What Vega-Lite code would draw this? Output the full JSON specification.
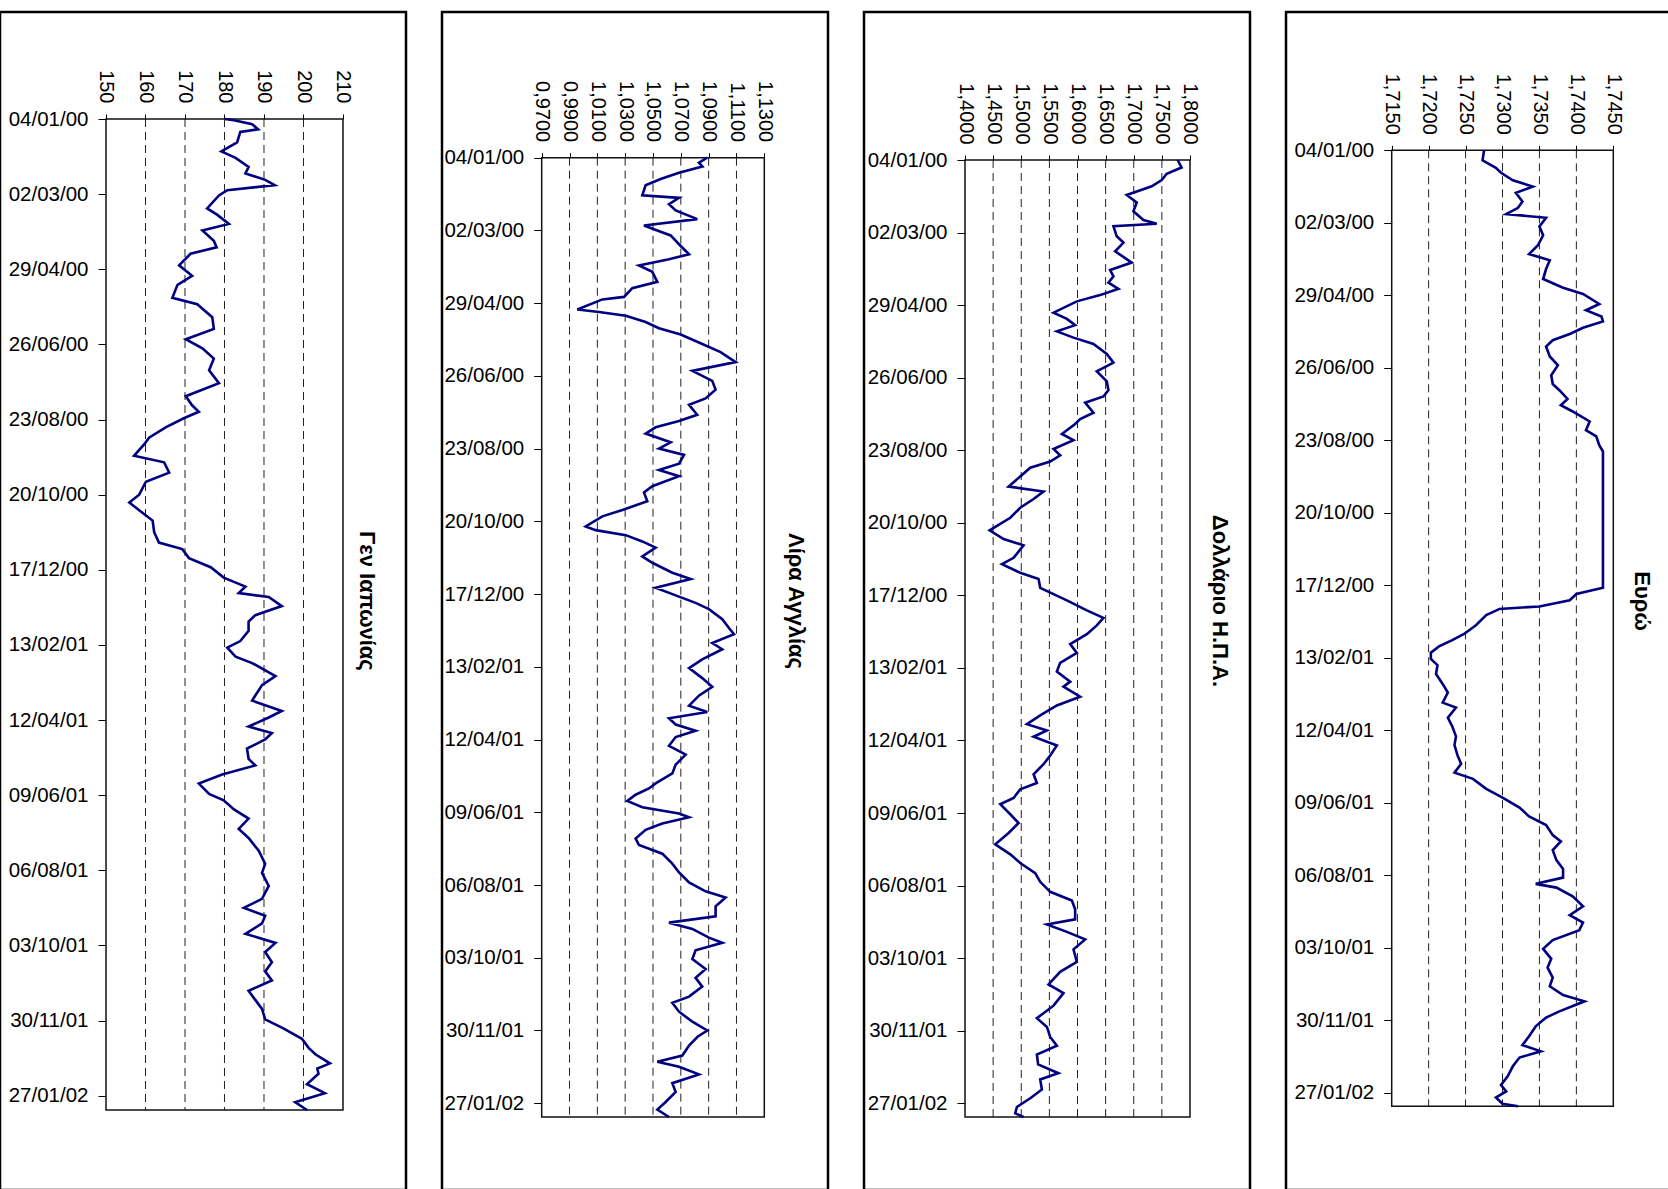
{
"$schema": "https://vega.github.io/schema/vega-lite/v6.json",
"background": "white",
"padding": {"left": -2, "top": 10, "right": 0, "bottom": 0},
"spacing": 32,
"config": {
  "view": {"stroke": "#000", "strokeWidth": 2.5},
  "locale": {"number": {"decimal": ",", "thousands": ".", "grouping": [3], "currency": ["", "€"]}},
  "axis": {"labelFont": "Liberation Sans", "labelFontSize": 20.5, "labelColor": "#000", "tickColor": "#000", "tickWidth": 1}
},
"datasets": {
"jpy": [
{"date":"2000-01-04","value":180.1},{"date":"2000-01-05","value":182.4},{"date":"2000-01-08","value":187.0},{"date":"2000-01-12","value":188.5},{"date":"2000-01-14","value":184.0},{"date":"2000-01-22","value":183.2},{"date":"2000-01-29","value":179.2},{"date":"2000-02-03","value":182.8},{"date":"2000-02-10","value":186.1},{"date":"2000-02-15","value":185.3},{"date":"2000-02-20","value":190.3},{"date":"2000-02-24","value":192.7},{"date":"2000-02-28","value":180.7},{"date":"2000-03-03","value":178.6},{"date":"2000-03-13","value":175.6},{"date":"2000-03-18","value":178.2},{"date":"2000-03-25","value":181.1},{"date":"2000-03-30","value":174.4},{"date":"2000-04-07","value":177.3},{"date":"2000-04-12","value":178.0},{"date":"2000-04-17","value":171.4},{"date":"2000-04-26","value":168.5},{"date":"2000-05-04","value":171.8},{"date":"2000-05-11","value":168.1},{"date":"2000-05-21","value":166.8},{"date":"2000-05-26","value":173.1},{"date":"2000-06-05","value":176.9},{"date":"2000-06-14","value":177.3},{"date":"2000-06-22","value":170.2},{"date":"2000-06-29","value":174.4},{"date":"2000-07-07","value":177.3},{"date":"2000-07-16","value":176.1},{"date":"2000-07-26","value":178.6},{"date":"2000-08-05","value":170.2},{"date":"2000-08-12","value":171.8},{"date":"2000-08-17","value":173.5},{"date":"2000-08-22","value":169.7},{"date":"2000-08-29","value":165.1},{"date":"2000-09-06","value":160.9},{"date":"2000-09-11","value":159.7},{"date":"2000-09-20","value":157.1},{"date":"2000-09-25","value":164.7},{"date":"2000-10-03","value":166.0},{"date":"2000-10-10","value":160.1},{"date":"2000-10-20","value":158.4},{"date":"2000-10-26","value":155.9},{"date":"2000-11-01","value":158.4},{"date":"2000-11-09","value":161.8},{"date":"2000-11-18","value":162.2},{"date":"2000-11-26","value":163.4},{"date":"2000-12-01","value":169.3},{"date":"2000-12-08","value":171.0},{"date":"2000-12-15","value":176.5},{"date":"2000-12-23","value":179.8},{"date":"2000-12-30","value":185.3},{"date":"2001-01-04","value":183.6},{"date":"2001-01-07","value":191.2},{"date":"2001-01-14","value":194.5},{"date":"2001-01-21","value":187.8},{"date":"2001-01-26","value":186.1},{"date":"2001-02-02","value":186.1},{"date":"2001-02-10","value":184.0},{"date":"2001-02-15","value":180.7},{"date":"2001-02-22","value":182.8},{"date":"2001-02-27","value":187.0},{"date":"2001-03-09","value":192.9},{"date":"2001-03-16","value":189.5},{"date":"2001-03-24","value":187.8},{"date":"2001-03-28","value":187.0},{"date":"2001-04-05","value":194.5},{"date":"2001-04-10","value":191.2},{"date":"2001-04-17","value":186.1},{"date":"2001-04-22","value":192.0},{"date":"2001-04-27","value":190.3},{"date":"2001-05-04","value":185.7},{"date":"2001-05-12","value":186.1},{"date":"2001-05-17","value":187.8},{"date":"2001-05-24","value":179.4},{"date":"2001-05-31","value":173.5},{"date":"2001-06-08","value":176.1},{"date":"2001-06-13","value":179.8},{"date":"2001-06-20","value":182.4},{"date":"2001-06-27","value":186.1},{"date":"2001-07-05","value":183.6},{"date":"2001-07-12","value":186.1},{"date":"2001-07-22","value":188.7},{"date":"2001-08-01","value":190.3},{"date":"2001-08-08","value":189.5},{"date":"2001-08-18","value":191.2},{"date":"2001-08-28","value":189.5},{"date":"2001-09-04","value":184.9},{"date":"2001-09-10","value":190.3},{"date":"2001-09-16","value":189.5},{"date":"2001-09-24","value":185.3},{"date":"2001-10-01","value":192.9},{"date":"2001-10-08","value":190.3},{"date":"2001-10-16","value":192.0},{"date":"2001-10-23","value":190.3},{"date":"2001-10-30","value":192.0},{"date":"2001-11-07","value":186.1},{"date":"2001-11-14","value":187.8},{"date":"2001-11-21","value":189.5},{"date":"2001-11-29","value":190.3},{"date":"2001-12-06","value":194.9},{"date":"2001-12-14","value":199.6},{"date":"2001-12-21","value":201.3},{"date":"2001-12-26","value":203.0},{"date":"2002-01-02","value":206.7},{"date":"2002-01-06","value":203.5},{"date":"2002-01-10","value":203.8},{"date":"2002-01-18","value":200.9},{"date":"2002-01-25","value":205.4},{"date":"2002-02-01","value":197.9},{"date":"2002-02-07","value":200.9}
],
"gbp": [
{"date":"2000-01-04","value":1.089},{"date":"2000-01-08","value":1.083},{"date":"2000-01-11","value":1.0855},{"date":"2000-01-16","value":1.0687},{"date":"2000-01-21","value":1.0555},{"date":"2000-01-26","value":1.0447},{"date":"2000-02-03","value":1.0423},{"date":"2000-02-05","value":1.0687},{"date":"2000-02-10","value":1.0615},{"date":"2000-02-15","value":1.0663},{"date":"2000-02-22","value":1.0818},{"date":"2000-02-27","value":1.0435},{"date":"2000-03-03","value":1.0555},{"date":"2000-03-06","value":1.0627},{"date":"2000-03-13","value":1.0687},{"date":"2000-03-21","value":1.0759},{"date":"2000-03-25","value":1.0615},{"date":"2000-03-30","value":1.0399},{"date":"2000-04-04","value":1.0495},{"date":"2000-04-12","value":1.0531},{"date":"2000-04-17","value":1.0351},{"date":"2000-04-24","value":1.0292},{"date":"2000-04-26","value":1.0136},{"date":"2000-05-04","value":0.9956},{"date":"2000-05-06","value":1.0112},{"date":"2000-05-09","value":1.0304},{"date":"2000-05-14","value":1.0447},{"date":"2000-05-19","value":1.0543},{"date":"2000-05-24","value":1.0699},{"date":"2000-05-31","value":1.0842},{"date":"2000-06-07","value":1.0986},{"date":"2000-06-15","value":1.1094},{"date":"2000-06-22","value":1.0783},{"date":"2000-06-30","value":1.0926},{"date":"2000-07-07","value":1.095},{"date":"2000-07-14","value":1.0878},{"date":"2000-07-19","value":1.0759},{"date":"2000-07-27","value":1.0818},{"date":"2000-08-01","value":1.0687},{"date":"2000-08-06","value":1.0519},{"date":"2000-08-11","value":1.0447},{"date":"2000-08-18","value":1.0627},{"date":"2000-08-23","value":1.0543},{"date":"2000-08-28","value":1.0723},{"date":"2000-09-04","value":1.0687},{"date":"2000-09-09","value":1.0543},{"date":"2000-09-14","value":1.0687},{"date":"2000-09-22","value":1.0495},{"date":"2000-09-27","value":1.0435},{"date":"2000-10-04","value":1.0459},{"date":"2000-10-11","value":1.028},{"date":"2000-10-16","value":1.0136},{"date":"2000-10-24","value":1.0016},{"date":"2000-10-27","value":1.0088},{"date":"2000-10-31","value":1.0304},{"date":"2000-11-05","value":1.0423},{"date":"2000-11-10","value":1.0519},{"date":"2000-11-17","value":1.0423},{"date":"2000-11-22","value":1.0495},{"date":"2000-11-30","value":1.0639},{"date":"2000-12-05","value":1.0771},{"date":"2000-12-12","value":1.0519},{"date":"2000-12-18","value":1.0663},{"date":"2000-12-24","value":1.0806},{"date":"2000-12-29","value":1.0902},{"date":"2001-01-06","value":1.0998},{"date":"2001-01-13","value":1.1046},{"date":"2001-01-18","value":1.1082},{"date":"2001-01-25","value":1.0926},{"date":"2001-01-30","value":1.0998},{"date":"2001-02-07","value":1.0854},{"date":"2001-02-14","value":1.0759},{"date":"2001-02-22","value":1.0854},{"date":"2001-03-01","value":1.0926},{"date":"2001-03-08","value":1.083},{"date":"2001-03-16","value":1.0759},{"date":"2001-03-21","value":1.089},{"date":"2001-03-26","value":1.0615},{"date":"2001-03-31","value":1.0663},{"date":"2001-04-05","value":1.0806},{"date":"2001-04-10","value":1.0663},{"date":"2001-04-17","value":1.0615},{"date":"2001-04-24","value":1.0735},{"date":"2001-05-02","value":1.0663},{"date":"2001-05-09","value":1.0639},{"date":"2001-05-17","value":1.0519},{"date":"2001-05-21","value":1.0471},{"date":"2001-05-26","value":1.0375},{"date":"2001-05-31","value":1.0315},{"date":"2001-06-05","value":1.0423},{"date":"2001-06-10","value":1.0687},{"date":"2001-06-13","value":1.0759},{"date":"2001-06-18","value":1.0567},{"date":"2001-06-23","value":1.0447},{"date":"2001-06-30","value":1.0375},{"date":"2001-07-05","value":1.0399},{"date":"2001-07-12","value":1.0567},{"date":"2001-07-20","value":1.0639},{"date":"2001-07-27","value":1.0687},{"date":"2001-08-04","value":1.0759},{"date":"2001-08-11","value":1.0878},{"date":"2001-08-16","value":1.1022},{"date":"2001-08-23","value":1.095},{"date":"2001-08-31","value":1.095},{"date":"2001-09-05","value":1.0615},{"date":"2001-09-10","value":1.0783},{"date":"2001-09-17","value":1.0902},{"date":"2001-09-21","value":1.0998},{"date":"2001-09-27","value":1.0806},{"date":"2001-10-04","value":1.0783},{"date":"2001-10-12","value":1.0878},{"date":"2001-10-19","value":1.0806},{"date":"2001-10-26","value":1.0854},{"date":"2001-11-03","value":1.0759},{"date":"2001-11-08","value":1.0639},{"date":"2001-11-15","value":1.0687},{"date":"2001-11-23","value":1.0783},{"date":"2001-11-30","value":1.089},{"date":"2001-12-05","value":1.082},{"date":"2001-12-12","value":1.0759},{"date":"2001-12-20","value":1.0711},{"date":"2001-12-25","value":1.0531},{"date":"2001-12-29","value":1.0687},{"date":"2002-01-04","value":1.083},{"date":"2002-01-11","value":1.0639},{"date":"2002-01-18","value":1.0663},{"date":"2002-01-26","value":1.0591},{"date":"2002-02-01","value":1.0531},{"date":"2002-02-07","value":1.0615}
],
"usd": [
{"date":"2000-01-04","value":1.778},{"date":"2000-01-10","value":1.785},{"date":"2000-01-15","value":1.7586},{"date":"2000-01-20","value":1.7497},{"date":"2000-01-25","value":1.732},{"date":"2000-02-01","value":1.6876},{"date":"2000-02-07","value":1.7053},{"date":"2000-02-14","value":1.6994},{"date":"2000-02-21","value":1.7172},{"date":"2000-02-24","value":1.7408},{"date":"2000-02-26","value":1.6639},{"date":"2000-03-05","value":1.6698},{"date":"2000-03-10","value":1.6817},{"date":"2000-03-17","value":1.6669},{"date":"2000-03-26","value":1.6964},{"date":"2000-04-01","value":1.658},{"date":"2000-04-06","value":1.6639},{"date":"2000-04-11","value":1.655},{"date":"2000-04-16","value":1.6728},{"date":"2000-04-21","value":1.6402},{"date":"2000-04-26","value":1.5988},{"date":"2000-05-05","value":1.5574},{"date":"2000-05-10","value":1.5811},{"date":"2000-05-15","value":1.5958},{"date":"2000-05-20","value":1.5633},{"date":"2000-05-25","value":1.5929},{"date":"2000-05-30","value":1.6284},{"date":"2000-06-07","value":1.6521},{"date":"2000-06-14","value":1.6639},{"date":"2000-06-21","value":1.6343},{"date":"2000-06-29","value":1.6521},{"date":"2000-07-06","value":1.655},{"date":"2000-07-11","value":1.6461},{"date":"2000-07-16","value":1.6136},{"date":"2000-07-24","value":1.6284},{"date":"2000-07-29","value":1.6047},{"date":"2000-08-02","value":1.5958},{"date":"2000-08-10","value":1.5722},{"date":"2000-08-15","value":1.5929},{"date":"2000-08-22","value":1.5574},{"date":"2000-08-27","value":1.5692},{"date":"2000-09-01","value":1.5515},{"date":"2000-09-06","value":1.516},{"date":"2000-09-13","value":1.4982},{"date":"2000-09-21","value":1.4775},{"date":"2000-09-25","value":1.5396},{"date":"2000-10-01","value":1.5219},{"date":"2000-10-08","value":1.4982},{"date":"2000-10-16","value":1.4805},{"date":"2000-10-26","value":1.4438},{"date":"2000-11-02","value":1.4686},{"date":"2000-11-07","value":1.5041},{"date":"2000-11-12","value":1.4953},{"date":"2000-11-17","value":1.4864},{"date":"2000-11-22","value":1.4657},{"date":"2000-11-29","value":1.4982},{"date":"2000-12-04","value":1.5308},{"date":"2000-12-11","value":1.5337},{"date":"2000-12-16","value":1.5574},{"date":"2000-12-21","value":1.5811},{"date":"2000-12-29","value":1.6166},{"date":"2001-01-04","value":1.6461},{"date":"2001-01-10","value":1.6343},{"date":"2001-01-17","value":1.6166},{"date":"2001-01-25","value":1.587},{"date":"2001-02-01","value":1.5988},{"date":"2001-02-09","value":1.5692},{"date":"2001-02-16","value":1.5633},{"date":"2001-02-24","value":1.587},{"date":"2001-02-28","value":1.5751},{"date":"2001-03-08","value":1.6047},{"date":"2001-03-15","value":1.5633},{"date":"2001-03-23","value":1.5337},{"date":"2001-03-30","value":1.5101},{"date":"2001-04-04","value":1.5456},{"date":"2001-04-09","value":1.5219},{"date":"2001-04-16","value":1.5633},{"date":"2001-04-24","value":1.5515},{"date":"2001-05-01","value":1.5396},{"date":"2001-05-09","value":1.5219},{"date":"2001-05-16","value":1.5278},{"date":"2001-05-21","value":1.4982},{"date":"2001-05-28","value":1.4864},{"date":"2001-06-02","value":1.4627},{"date":"2001-06-10","value":1.4805},{"date":"2001-06-17","value":1.4953},{"date":"2001-06-25","value":1.4775},{"date":"2001-07-04","value":1.4538},{"date":"2001-07-12","value":1.4805},{"date":"2001-07-19","value":1.4982},{"date":"2001-07-27","value":1.5248},{"date":"2001-08-03","value":1.5337},{"date":"2001-08-11","value":1.5515},{"date":"2001-08-18","value":1.59},{"date":"2001-08-25","value":1.5958},{"date":"2001-09-02","value":1.5958},{"date":"2001-09-06","value":1.5456},{"date":"2001-09-12","value":1.5811},{"date":"2001-09-18","value":1.6136},{"date":"2001-09-26","value":1.5929},{"date":"2001-10-06","value":1.5988},{"date":"2001-10-14","value":1.5692},{"date":"2001-10-24","value":1.5485},{"date":"2001-10-31","value":1.5751},{"date":"2001-11-10","value":1.5574},{"date":"2001-11-20","value":1.5278},{"date":"2001-11-27","value":1.5456},{"date":"2001-12-05","value":1.5515},{"date":"2001-12-12","value":1.5633},{"date":"2001-12-19","value":1.5278},{"date":"2001-12-27","value":1.53},{"date":"2002-01-03","value":1.566},{"date":"2002-01-08","value":1.5337},{"date":"2002-01-16","value":1.5367},{"date":"2002-01-23","value":1.516},{"date":"2002-01-30","value":1.4923},{"date":"2002-02-04","value":1.4893},{"date":"2002-02-07","value":1.5041}
],
"eur": [
{"date":"2000-01-04","value":1.7275},{"date":"2000-01-12","value":1.7273},{"date":"2000-01-18","value":1.7291},{"date":"2000-01-22","value":1.7298},{"date":"2000-01-28","value":1.7314},{"date":"2000-02-02","value":1.7341},{"date":"2000-02-07","value":1.7318},{"date":"2000-02-14","value":1.7327},{"date":"2000-02-19","value":1.7321},{"date":"2000-02-24","value":1.7305},{"date":"2000-02-27","value":1.7359},{"date":"2000-03-05","value":1.735},{"date":"2000-03-12","value":1.7355},{"date":"2000-03-20","value":1.7348},{"date":"2000-03-27","value":1.7336},{"date":"2000-04-01","value":1.7364},{"date":"2000-04-08","value":1.7359},{"date":"2000-04-16","value":1.7355},{"date":"2000-04-23","value":1.7382},{"date":"2000-04-28","value":1.7409},{"date":"2000-05-06","value":1.7431},{"date":"2000-05-11","value":1.7413},{"date":"2000-05-16","value":1.7434},{"date":"2000-05-20","value":1.7436},{"date":"2000-05-25","value":1.7409},{"date":"2000-05-30","value":1.7391},{"date":"2000-06-04","value":1.7368},{"date":"2000-06-09","value":1.7359},{"date":"2000-06-17","value":1.7364},{"date":"2000-06-24","value":1.7375},{"date":"2000-07-02","value":1.7366},{"date":"2000-07-09","value":1.7368},{"date":"2000-07-14","value":1.7377},{"date":"2000-07-21","value":1.7388},{"date":"2000-07-26","value":1.7379},{"date":"2000-07-31","value":1.7395},{"date":"2000-08-08","value":1.7418},{"date":"2000-08-15","value":1.7413},{"date":"2000-08-20","value":1.7427},{"date":"2000-08-27","value":1.7431},{"date":"2000-09-01","value":1.7436},{"date":"2000-12-19","value":1.7436},{"date":"2000-12-24","value":1.74},{"date":"2000-12-29","value":1.7391},{"date":"2001-01-03","value":1.735},{"date":"2001-01-05","value":1.7296},{"date":"2001-01-10","value":1.7278},{"date":"2001-01-18","value":1.7264},{"date":"2001-01-25","value":1.7248},{"date":"2001-01-30","value":1.7232},{"date":"2001-02-04","value":1.7214},{"date":"2001-02-09","value":1.7203},{"date":"2001-02-14","value":1.7203},{"date":"2001-02-19","value":1.7212},{"date":"2001-02-26","value":1.721},{"date":"2001-03-06","value":1.7219},{"date":"2001-03-13","value":1.7226},{"date":"2001-03-21","value":1.7219},{"date":"2001-03-25","value":1.7237},{"date":"2001-04-02","value":1.7226},{"date":"2001-04-09","value":1.7232},{"date":"2001-04-17","value":1.7237},{"date":"2001-04-24","value":1.7235},{"date":"2001-05-02","value":1.7239},{"date":"2001-05-09","value":1.7244},{"date":"2001-05-16","value":1.7235},{"date":"2001-05-21","value":1.726},{"date":"2001-05-29","value":1.7278},{"date":"2001-06-05","value":1.73},{"date":"2001-06-13","value":1.7323},{"date":"2001-06-20","value":1.7336},{"date":"2001-06-27","value":1.7359},{"date":"2001-07-05","value":1.7368},{"date":"2001-07-10","value":1.7379},{"date":"2001-07-17","value":1.7368},{"date":"2001-07-25","value":1.7373},{"date":"2001-08-01","value":1.7382},{"date":"2001-08-08","value":1.7382},{"date":"2001-08-13","value":1.7345},{"date":"2001-08-16","value":1.7373},{"date":"2001-08-23","value":1.7395},{"date":"2001-08-31","value":1.7409},{"date":"2001-09-07","value":1.7391},{"date":"2001-09-13","value":1.7409},{"date":"2001-09-19","value":1.7404},{"date":"2001-09-27","value":1.7368},{"date":"2001-10-04","value":1.7355},{"date":"2001-10-12","value":1.7366},{"date":"2001-10-19","value":1.7361},{"date":"2001-10-27","value":1.7368},{"date":"2001-11-03","value":1.7364},{"date":"2001-11-10","value":1.7382},{"date":"2001-11-15","value":1.7411},{"date":"2001-11-23","value":1.7377},{"date":"2001-11-28","value":1.7359},{"date":"2001-12-05","value":1.7345},{"date":"2001-12-13","value":1.7336},{"date":"2001-12-20","value":1.7327},{"date":"2001-12-25","value":1.7352},{"date":"2001-12-30","value":1.7323},{"date":"2002-01-06","value":1.7314},{"date":"2002-01-14","value":1.7307},{"date":"2002-01-21","value":1.7298},{"date":"2002-01-26","value":1.7305},{"date":"2002-01-31","value":1.7291},{"date":"2002-02-05","value":1.73},{"date":"2002-02-07","value":1.7321}
]
},
"hconcat": [
{
 "width": 406, "height": 1178,
 "layer": [
  {"data": {"values": [{"v":160},{"v":170},{"v":180},{"v":190},{"v":200}]},
   "mark": {"type":"rule","color":"#222","strokeWidth":1,"strokeDash":[8,5]},
   "encoding": {
    "x": {"field":"v","type":"quantitative","title":null,"scale":{"type":"linear","domain":[123.165,225.95],"nice":false,"zero":false}},
    "y": {"datum":{"year":2000,"month":1,"date":4,"utc":true},"type":"temporal","title":null,"scale":{"type":"utc","domain":[939807360000,1018376064000],"reverse":true}},
    "y2": {"datum":{"year":2002,"month":2,"date":7,"utc":true}}
   }},
  {"data": {"values": [{}]},
   "mark": {"type":"rect","fill":"#fff","fillOpacity":0,"stroke":"#111","strokeWidth":1.5},
   "encoding": {
    "x": {"datum":150,"type":"quantitative","title":null,"scale":{"type":"linear","domain":[123.165,225.95],"nice":false,"zero":false}},
    "x2": {"datum":210},
    "y": {"datum":{"year":2000,"month":1,"date":4,"utc":true},"type":"temporal","title":null,"scale":{"type":"utc","domain":[939807360000,1018376064000],"reverse":true}},
    "y2": {"datum":{"year":2002,"month":2,"date":7,"utc":true}}
   }},
  {"data": {"name":"jpy"},
   "mark": {"type":"line","color":"#000080","strokeWidth":2.6},
   "encoding": {
    "x": {"field":"value","type":"quantitative","title":null,"scale":{"type":"linear","domain":[123.165,225.95],"nice":false,"zero":false},
          "axis":{"orient":"top","offset":-107,"values":[150,160,170,180,190,200,210],"format":"d","labelAngle":90,"labelAlign":"right","labelBaseline":"middle","labelPadding":11,"labelFontSize":20,"tickSize":5,"domain":false,"grid":false,"title":null,"labelFlush":false,"labelOverlap":false}},
    "y": {"field":"date","type":"temporal","title":null,"scale":{"type":"utc","domain":[939807360000,1018376064000],"reverse":true},
          "axis":{"orient":"left","offset":-106,"values":[{"year":2000,"month":1,"date":4,"utc":true},{"year":2000,"month":3,"date":2,"utc":true},{"year":2000,"month":4,"date":29,"utc":true},{"year":2000,"month":6,"date":26,"utc":true},{"year":2000,"month":8,"date":23,"utc":true},{"year":2000,"month":10,"date":20,"utc":true},{"year":2000,"month":12,"date":17,"utc":true},{"year":2001,"month":2,"date":13,"utc":true},{"year":2001,"month":4,"date":12,"utc":true},{"year":2001,"month":6,"date":9,"utc":true},{"year":2001,"month":8,"date":6,"utc":true},{"year":2001,"month":10,"date":3,"utc":true},{"year":2001,"month":11,"date":30,"utc":true},{"year":2002,"month":1,"date":27,"utc":true}],"format":"%d/%m/%y","labelPadding":10,"tickSize":8,"domain":false,"grid":false,"title":null,"labelFlush":false,"labelOverlap":false}}
   }},
  {"data": {"values": [{"label":"Γεν Ιαπωνίας"}]},
   "mark": {"type":"text","angle":90,"fontSize":22,"fontWeight":"bold","font":"Liberation Sans","align":"center","baseline":"middle","color":"#000"},
   "encoding": {
    "x": {"datum":216.07,"type":"quantitative","title":null,"scale":{"type":"linear","domain":[123.165,225.95],"nice":false,"zero":false}},
    "y": {"datum":{"year":2001,"month":1,"date":10,"utc":true},"type":"temporal","title":null,"scale":{"type":"utc","domain":[939807360000,1018376064000],"reverse":true}},
    "text": {"field":"label"}
   }}
 ]
},
{
 "width": 386, "height": 1178,
 "layer": [
  {"data": {"values": [{"v":0.99},{"v":1.01},{"v":1.03},{"v":1.05},{"v":1.07},{"v":1.09},{"v":1.11}]},
   "mark": {"type":"rule","color":"#222","strokeWidth":1,"strokeDash":[8,5]},
   "encoding": {
    "x": {"field":"v","type":"quantitative","title":null,"scale":{"type":"linear","domain":[0.89834,1.17579],"nice":false,"zero":false}},
    "y": {"datum":{"year":2000,"month":1,"date":4,"utc":true},"type":"temporal","title":null,"scale":{"type":"utc","domain":[936905184000,1018069344000],"reverse":true}},
    "y2": {"datum":{"year":2002,"month":2,"date":7,"utc":true}}
   }},
  {"data": {"values": [{}]},
   "mark": {"type":"rect","fill":"#fff","fillOpacity":0,"stroke":"#111","strokeWidth":1.5},
   "encoding": {
    "x": {"datum":0.97,"type":"quantitative","title":null,"scale":{"type":"linear","domain":[0.89834,1.17579],"nice":false,"zero":false}},
    "x2": {"datum":1.13},
    "y": {"datum":{"year":2000,"month":1,"date":4,"utc":true},"type":"temporal","title":null,"scale":{"type":"utc","domain":[936905184000,1018069344000],"reverse":true}},
    "y2": {"datum":{"year":2002,"month":2,"date":7,"utc":true}}
   }},
  {"data": {"name":"gbp"},
   "mark": {"type":"line","color":"#000080","strokeWidth":2.6},
   "encoding": {
    "x": {"field":"value","type":"quantitative","title":null,"scale":{"type":"linear","domain":[0.89834,1.17579],"nice":false,"zero":false},
          "axis":{"orient":"top","offset":-145.7,"values":[0.97,0.99,1.01,1.03,1.05,1.07,1.09,1.11,1.13],"format":".4f","labelAngle":90,"labelAlign":"right","labelBaseline":"middle","labelPadding":11,"labelFontSize":20,"tickSize":5,"domain":false,"grid":false,"title":null,"labelFlush":false,"labelOverlap":false}},
    "y": {"field":"date","type":"temporal","title":null,"scale":{"type":"utc","domain":[936905184000,1018069344000],"reverse":true},
          "axis":{"orient":"left","offset":-99.7,"values":[{"year":2000,"month":1,"date":4,"utc":true},{"year":2000,"month":3,"date":2,"utc":true},{"year":2000,"month":4,"date":29,"utc":true},{"year":2000,"month":6,"date":26,"utc":true},{"year":2000,"month":8,"date":23,"utc":true},{"year":2000,"month":10,"date":20,"utc":true},{"year":2000,"month":12,"date":17,"utc":true},{"year":2001,"month":2,"date":13,"utc":true},{"year":2001,"month":4,"date":12,"utc":true},{"year":2001,"month":6,"date":9,"utc":true},{"year":2001,"month":8,"date":6,"utc":true},{"year":2001,"month":10,"date":3,"utc":true},{"year":2001,"month":11,"date":30,"utc":true},{"year":2002,"month":1,"date":27,"utc":true}],"format":"%d/%m/%y","labelPadding":10,"tickSize":8,"domain":false,"grid":false,"title":null,"labelFlush":false,"labelOverlap":false}}
   }},
  {"data": {"values": [{"label":"Λίρα Αγγλίας"}]},
   "mark": {"type":"text","angle":90,"fontSize":22,"fontWeight":"bold","font":"Liberation Sans","align":"center","baseline":"middle","color":"#000"},
   "encoding": {
    "x": {"datum":1.15279,"type":"quantitative","title":null,"scale":{"type":"linear","domain":[0.89834,1.17579],"nice":false,"zero":false}},
    "y": {"datum":{"year":2000,"month":12,"date":22,"hours":12,"utc":true},"type":"temporal","title":null,"scale":{"type":"utc","domain":[936905184000,1018069344000],"reverse":true}},
    "text": {"field":"label"}
   }}
 ]
},
{
 "width": 386, "height": 1178,
 "layer": [
  {"data": {"values": [{"v":1.45},{"v":1.5},{"v":1.55},{"v":1.6},{"v":1.65},{"v":1.7},{"v":1.75}]},
   "mark": {"type":"rule","color":"#222","strokeWidth":1,"strokeDash":[8,5]},
   "encoding": {
    "x": {"field":"v","type":"quantitative","title":null,"scale":{"type":"linear","domain":[1.22044,1.90667],"nice":false,"zero":false}},
    "y": {"datum":{"year":2000,"month":1,"date":4,"utc":true},"type":"temporal","title":null,"scale":{"type":"utc","domain":[936722016000,1018081440000],"reverse":true}},
    "y2": {"datum":{"year":2002,"month":2,"date":7,"utc":true}}
   }},
  {"data": {"values": [{}]},
   "mark": {"type":"rect","fill":"#fff","fillOpacity":0,"stroke":"#111","strokeWidth":1.5},
   "encoding": {
    "x": {"datum":1.4,"type":"quantitative","title":null,"scale":{"type":"linear","domain":[1.22044,1.90667],"nice":false,"zero":false}},
    "x2": {"datum":1.8},
    "y": {"datum":{"year":2000,"month":1,"date":4,"utc":true},"type":"temporal","title":null,"scale":{"type":"utc","domain":[936722016000,1018081440000],"reverse":true}},
    "y2": {"datum":{"year":2002,"month":2,"date":7,"utc":true}}
   }},
  {"data": {"name":"usd"},
   "mark": {"type":"line","color":"#000080","strokeWidth":2.6},
   "encoding": {
    "x": {"field":"value","type":"quantitative","title":null,"scale":{"type":"linear","domain":[1.22044,1.90667],"nice":false,"zero":false},
          "axis":{"orient":"top","offset":-148,"values":[1.4,1.45,1.5,1.55,1.6,1.65,1.7,1.75,1.8],"format":".4f","labelAngle":90,"labelAlign":"right","labelBaseline":"middle","labelPadding":11,"labelFontSize":20,"tickSize":5,"domain":false,"grid":false,"title":null,"labelFlush":false,"labelOverlap":false}},
    "y": {"field":"date","type":"temporal","title":null,"scale":{"type":"utc","domain":[936722016000,1018081440000],"reverse":true},
          "axis":{"orient":"left","offset":-101,"values":[{"year":2000,"month":1,"date":4,"utc":true},{"year":2000,"month":3,"date":2,"utc":true},{"year":2000,"month":4,"date":29,"utc":true},{"year":2000,"month":6,"date":26,"utc":true},{"year":2000,"month":8,"date":23,"utc":true},{"year":2000,"month":10,"date":20,"utc":true},{"year":2000,"month":12,"date":17,"utc":true},{"year":2001,"month":2,"date":13,"utc":true},{"year":2001,"month":4,"date":12,"utc":true},{"year":2001,"month":6,"date":9,"utc":true},{"year":2001,"month":8,"date":6,"utc":true},{"year":2001,"month":10,"date":3,"utc":true},{"year":2001,"month":11,"date":30,"utc":true},{"year":2002,"month":1,"date":27,"utc":true}],"format":"%d/%m/%y","labelPadding":10,"tickSize":8,"domain":false,"grid":false,"title":null,"labelFlush":false,"labelOverlap":false}}
   }},
  {"data": {"values": [{"label":"Δολλάριο Η.Π.Α."}]},
   "mark": {"type":"text","angle":90,"fontSize":22,"fontWeight":"bold","font":"Liberation Sans","align":"center","baseline":"middle","color":"#000"},
   "encoding": {
    "x": {"datum":1.85333,"type":"quantitative","title":null,"scale":{"type":"linear","domain":[1.22044,1.90667],"nice":false,"zero":false}},
    "y": {"datum":{"year":2000,"month":12,"date":21,"hours":12,"utc":true},"type":"temporal","title":null,"scale":{"type":"utc","domain":[936722016000,1018081440000],"reverse":true}},
    "text": {"field":"label"}
   }}
 ]
},
{
 "width": 388, "height": 1178,
 "layer": [
  {"data": {"values": [{"v":1.72},{"v":1.725},{"v":1.73},{"v":1.735},{"v":1.74}]},
   "mark": {"type":"rule","color":"#222","strokeWidth":1,"strokeDash":[8,5]},
   "encoding": {
    "x": {"field":"v","type":"quantitative","title":null,"scale":{"type":"linear","domain":[1.70069,1.753218],"nice":false,"zero":false}},
    "y": {"datum":{"year":2000,"month":1,"date":4,"utc":true},"type":"temporal","title":null,"scale":{"type":"utc","domain":[937382112000,1018827072000],"reverse":true}},
    "y2": {"datum":{"year":2002,"month":2,"date":7,"utc":true}}
   }},
  {"data": {"values": [{}]},
   "mark": {"type":"rect","fill":"#fff","fillOpacity":0,"stroke":"#111","strokeWidth":1.5},
   "encoding": {
    "x": {"datum":1.715,"type":"quantitative","title":null,"scale":{"type":"linear","domain":[1.70069,1.753218],"nice":false,"zero":false}},
    "x2": {"datum":1.745},
    "y": {"datum":{"year":2000,"month":1,"date":4,"utc":true},"type":"temporal","title":null,"scale":{"type":"utc","domain":[937382112000,1018827072000],"reverse":true}},
    "y2": {"datum":{"year":2002,"month":2,"date":7,"utc":true}}
   }},
  {"data": {"name":"eur"},
   "mark": {"type":"line","color":"#000080","strokeWidth":2.6},
   "encoding": {
    "x": {"field":"value","type":"quantitative","title":null,"scale":{"type":"linear","domain":[1.70069,1.753218],"nice":false,"zero":false},
          "axis":{"orient":"top","offset":-138.3,"values":[1.715,1.72,1.725,1.73,1.735,1.74,1.745],"format":".4f","labelAngle":90,"labelAlign":"right","labelBaseline":"middle","labelPadding":11,"labelFontSize":20,"tickSize":5,"domain":false,"grid":false,"title":null,"labelFlush":false,"labelOverlap":false}},
    "y": {"field":"date","type":"temporal","title":null,"scale":{"type":"utc","domain":[937382112000,1018827072000],"reverse":true},
          "axis":{"orient":"left","offset":-105.7,"values":[{"year":2000,"month":1,"date":4,"utc":true},{"year":2000,"month":3,"date":2,"utc":true},{"year":2000,"month":4,"date":29,"utc":true},{"year":2000,"month":6,"date":26,"utc":true},{"year":2000,"month":8,"date":23,"utc":true},{"year":2000,"month":10,"date":20,"utc":true},{"year":2000,"month":12,"date":17,"utc":true},{"year":2001,"month":2,"date":13,"utc":true},{"year":2001,"month":4,"date":12,"utc":true},{"year":2001,"month":6,"date":9,"utc":true},{"year":2001,"month":8,"date":6,"utc":true},{"year":2001,"month":10,"date":3,"utc":true},{"year":2001,"month":11,"date":30,"utc":true},{"year":2002,"month":1,"date":27,"utc":true}],"format":"%d/%m/%y","labelPadding":10,"tickSize":8,"domain":false,"grid":false,"title":null,"labelFlush":false,"labelOverlap":false}}
   }},
  {"data": {"values": [{"label":"Ευρώ"}]},
   "mark": {"type":"text","angle":90,"fontSize":22,"fontWeight":"bold","font":"Liberation Sans","align":"center","baseline":"middle","color":"#000"},
   "encoding": {
    "x": {"datum":1.748885,"type":"quantitative","title":null,"scale":{"type":"linear","domain":[1.70069,1.753218],"nice":false,"zero":false}},
    "y": {"datum":{"year":2000,"month":12,"date":29,"hours":17,"utc":true},"type":"temporal","title":null,"scale":{"type":"utc","domain":[937382112000,1018827072000],"reverse":true}},
    "text": {"field":"label"}
   }}
 ]
}
]
}
